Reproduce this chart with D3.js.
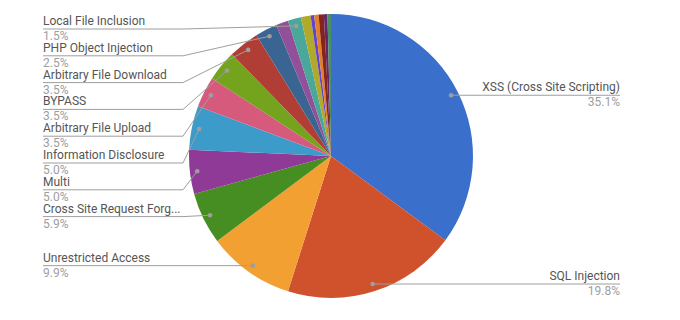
<!DOCTYPE html>
<html>
<head>
<meta charset="utf-8">
<script src="https://cdn.jsdelivr.net/npm/d3@7/dist/d3.min.js"></script>
<style>
  html, body { margin: 0; padding: 0; background: #fff; }
  svg { display: block; font-family: Roboto, "Noto Sans", Arial, sans-serif; }
</style>
</head>
<body>
<svg id="chart" width="680" height="320"></svg>
<script>
// ---- data ----
const categories = [
  "XSS (Cross Site Scripting)", "SQL Injection", "Unrestricted Access",
  "Cross Site Request Forg...", "Multi", "Information Disclosure",
  "Arbitrary File Upload", "BYPASS", "Arbitrary File Download",
  "PHP Object Injection", "Other 1", "Local File Inclusion",
  "Other 2", "Other 3", "Other 4", "Other 5", "Other 6", "Other 7"
];
const values = [35.1, 19.8, 9.9, 5.9, 5.0, 5.0, 3.5, 3.5, 3.5, 2.5, 1.4, 1.5, 1.1, 0.4, 0.5, 0.6, 0.4, 0.4];
const colors = [
  "#3a6fcc", "#cf522d", "#f3a033", "#468d22", "#8e3a96", "#3c9bc9",
  "#d65a7c", "#74a31e", "#b13e34", "#3a6593", "#93509a", "#4aa89b",
  "#b1a92b", "#6344c9", "#e0802a", "#85241b", "#62286a", "#4a9066"
];
const labelThreshold = 1.5;

// ---- layout ----
const cx = 331, cy = 156, R = 142;
const dotR = R * 0.948;
const leftTextX = 43, leftBendX = 183, rightEndX = 620;
const rowGap = 26.8, topMin = 29;

const svg = d3.select("#chart");
const data = categories.map((c, i) => ({ name: c, value: values[i], color: colors[i] }));
const pie = d3.pie().sort(null).value(d => d.value);
const arcs = pie(data);
const arc = d3.arc().innerRadius(0).outerRadius(R);

const g = svg.append("g").attr("transform", `translate(${cx},${cy})`);
g.selectAll("path.slice").data(arcs).enter().append("path")
  .attr("class", "slice")
  .attr("d", arc)
  .attr("fill", d => d.data.color);

const fmt = d3.format(".1f");
const total = d3.sum(values);

const labeled = arcs.filter(d => d.data.value >= labelThreshold).map(d => {
  const a = (d.startAngle + d.endAngle) / 2;
  return {
    d, a,
    x: cx + dotR * Math.sin(a),
    y: cy - dotR * Math.cos(a),
    side: a < Math.PI ? "right" : "left"
  };
});

// left labels: stack top-down
const left = labeled.filter(l => l.side === "left").sort((p, q) => p.y - q.y);
let prev = -Infinity;
left.forEach(l => {
  l.ly = Math.max(l.y, prev + rowGap, topMin);
  prev = l.ly;
});
const right = labeled.filter(l => l.side === "right");
right.forEach(l => { l.ly = l.y; });

const lineColor = "#9e9e9e";
const lg = svg.append("g");

left.forEach(l => {
  lg.append("path")
    .attr("d", `M${leftTextX},${l.ly}L${leftBendX},${l.ly}L${l.x},${l.y}`)
    .attr("fill", "none").attr("stroke", lineColor).attr("stroke-width", 1);
  lg.append("circle").attr("cx", l.x).attr("cy", l.y).attr("r", 2.3).attr("fill", lineColor);
  lg.append("text").attr("x", leftTextX).attr("y", l.ly - 4)
    .attr("font-size", 12).attr("fill", "#555").text(l.d.data.name);
  lg.append("text").attr("x", leftTextX).attr("y", l.ly + 11)
    .attr("font-size", 12).attr("fill", "#9e9e9e")
    .text(fmt(l.d.data.value / total * 100) + "%");
});

right.forEach(l => {
  lg.append("path")
    .attr("d", `M${l.x},${l.ly}L${rightEndX},${l.ly}`)
    .attr("fill", "none").attr("stroke", lineColor).attr("stroke-width", 1);
  lg.append("circle").attr("cx", l.x).attr("cy", l.y).attr("r", 2.3).attr("fill", lineColor);
  lg.append("text").attr("x", rightEndX).attr("y", l.ly - 4).attr("text-anchor", "end")
    .attr("font-size", 12).attr("fill", "#555").text(l.d.data.name);
  lg.append("text").attr("x", rightEndX).attr("y", l.ly + 11).attr("text-anchor", "end")
    .attr("font-size", 12).attr("fill", "#9e9e9e")
    .text(fmt(l.d.data.value / total * 100) + "%");
});
</script>
</body>
</html>
